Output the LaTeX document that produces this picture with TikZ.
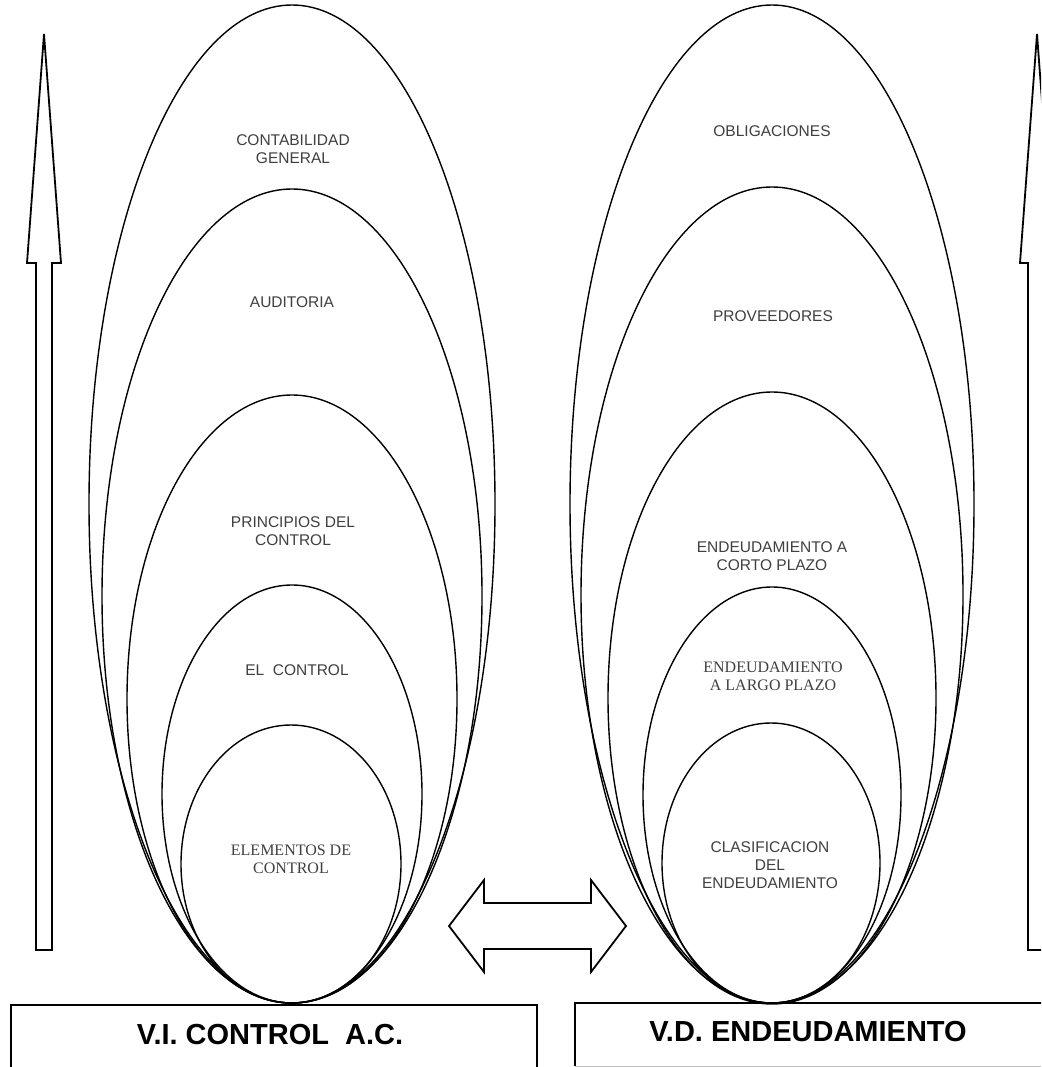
\documentclass[tikz,border=0pt]{standalone}
\usepackage{fontspec}
\setmainfont{Liberation Serif}
\setsansfont{Liberation Sans}
\begin{document}
\begin{tikzpicture}[x=1pt,y=-1pt,
  ell/.style={line width=1.4pt},
  arrowshape/.style={line width=1.8pt, line join=miter},
  boxline/.style={line width=1.8pt},
  lab/.style={font=\fontsize{15.5}{18}\selectfont\sffamily, text=black!75, align=center, inner sep=0pt},
  slab/.style={font=\fontsize{16}{18}\selectfont\rmfamily, text=black!75, align=center, inner sep=0pt},
  big/.style={font=\fontsize{29}{32}\selectfont\sffamily\bfseries, inner sep=0pt}]
\useasboundingbox (0,0) rectangle (1041,1067);
\clip (0,0) rectangle (1041,1067);
\fill[white] (0,0) rectangle (1041,1067);

% vertical arrows
\draw[arrowshape] (44,34) -- (61,263) -- (52,263) -- (52,950) -- (36,950) -- (36,263) -- (27,263) -- cycle;
\draw[arrowshape] (1037,34) -- (1054,263) -- (1045,263) -- (1045,950) -- (1028,950) -- (1028,263) -- (1020,263) -- cycle;

% double arrow
\draw[arrowshape] (449,926) -- (484,880) -- (484,903) -- (591,903) -- (591,880) -- (626,926) -- (591,972) -- (591,949) -- (484,949) -- (484,972) -- cycle;

% left ellipses
\draw[ell] (292,504) ellipse [x radius=203, y radius=499];
\draw[ell] (292,596) ellipse [x radius=190, y radius=407];
\draw[ell] (292,699) ellipse [x radius=165, y radius=304];
\draw[ell] (292,794) ellipse [x radius=130, y radius=209];
\draw[ell] (291,864) ellipse [x radius=110, y radius=139];

% right ellipses
\draw[ell] (772,504) ellipse [x radius=202, y radius=499];
\draw[ell] (772,595) ellipse [x radius=191, y radius=408];
\draw[ell] (772,698) ellipse [x radius=164, y radius=306];
\draw[ell] (772,795) ellipse [x radius=129, y radius=208];
\draw[ell] (771,863) ellipse [x radius=109, y radius=140];

% left labels
\node[lab] (cg) at (293,149) {CONTABILIDAD\\GENERAL};
\node[lab] (au) at (292,302) {AUDITORIA};
\node[lab] (pc) at (293,531) {PRINCIPIOS DEL\\CONTROL};
\node[lab] (ec) at (297,670) {EL\ \ CONTROL};
\node[slab] (el) at (291,859) {ELEMENTOS DE\\CONTROL};

% right labels
\node[lab] (ob) at (772,131) {OBLIGACIONES};
\node[lab] (pr) at (773,316) {PROVEEDORES};
\node[lab] (cp) at (772,556) {ENDEUDAMIENTO A\\CORTO PLAZO};
\node[slab] (lp) at (773,676) {ENDEUDAMIENTO\\A LARGO PLAZO};
\node[lab] (cl) at (770,865) {CLASIFICACION\\DEL\\ENDEUDAMIENTO};

% bottom boxes
\draw[boxline] (11,1090) -- (11,1005) -- (537,1005) -- (537,1090);
\draw[boxline] (1060,1003) -- (575,1003) -- (575,1066);
\draw[black!25, line width=1pt] (575,1066) -- (1060,1066);
\node[big] (vi) at (270,1035) {V.I. CONTROL\ \ A.C.};
\node[big] (vd) at (808,1032) {V.D. ENDEUDAMIENTO};
\end{tikzpicture}
\end{document}
